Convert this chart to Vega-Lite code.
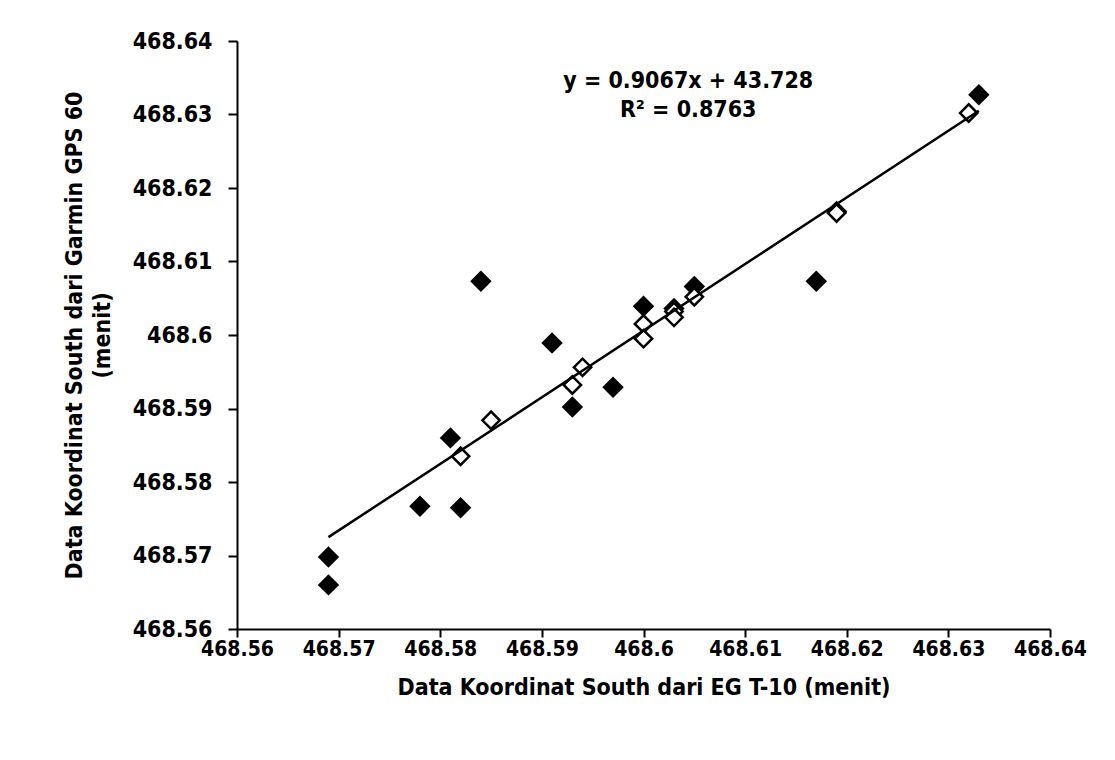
{
  "$schema": "https://vega.github.io/schema/vega-lite/v6.json",
  "width": 813,
  "height": 588,
  "autosize": "none",
  "padding": {"left": 237, "top": 41, "right": 65, "bottom": 131},
  "background": "white",
  "config": {
    "view": {"stroke": null},
    "font": "Liberation Sans Narrow, DejaVu Sans Condensed, sans-serif",
    "axis": {
      "grid": false,
      "domainColor": "black",
      "domainWidth": 2,
      "tickColor": "black",
      "tickWidth": 2,
      "labelColor": "black",
      "labelFontWeight": "bold",
      "labelFontSize": 23,
      "labelOverlap": false,
      "labelFlush": false,
      "titleColor": "black",
      "titleFontWeight": "bold",
      "titleFontSize": 23
    }
  },
  "datasets": {
    "actual": [
      {"eg": 468.569, "garmin": 468.5698},
      {"eg": 468.569, "garmin": 468.566},
      {"eg": 468.578, "garmin": 468.5767},
      {"eg": 468.582, "garmin": 468.5765},
      {"eg": 468.581, "garmin": 468.586},
      {"eg": 468.584, "garmin": 468.6073},
      {"eg": 468.591, "garmin": 468.5989},
      {"eg": 468.593, "garmin": 468.5902},
      {"eg": 468.597, "garmin": 468.5929},
      {"eg": 468.6, "garmin": 468.6039},
      {"eg": 468.603, "garmin": 468.6036},
      {"eg": 468.605, "garmin": 468.6066},
      {"eg": 468.617, "garmin": 468.6073},
      {"eg": 468.619, "garmin": 468.6168},
      {"eg": 468.633, "garmin": 468.6327}
    ],
    "predicted": [
      {"eg": 468.582, "garmin": 468.5835},
      {"eg": 468.585, "garmin": 468.5884},
      {"eg": 468.593, "garmin": 468.5932},
      {"eg": 468.594, "garmin": 468.5956},
      {"eg": 468.6, "garmin": 468.6015},
      {"eg": 468.6, "garmin": 468.5995},
      {"eg": 468.603, "garmin": 468.6032},
      {"eg": 468.603, "garmin": 468.6024},
      {"eg": 468.605, "garmin": 468.6052},
      {"eg": 468.619, "garmin": 468.6166},
      {"eg": 468.632, "garmin": 468.6302}
    ],
    "trend": [
      {"eg": 468.569, "garmin": 468.5725},
      {"eg": 468.633, "garmin": 468.6305}
    ],
    "notes": [
      {"eg": 468.6044, "garmin": 468.6346, "label": "y = 0.9067x + 43.728"},
      {"eg": 468.6044, "garmin": 468.6306, "label": "R² = 0.8763"}
    ]
  },
  "layer": [
    {
      "data": {"name": "actual"},
      "mark": {"type": "point", "shape": "diamond", "filled": true, "color": "black", "size": 460, "opacity": 1},
      "encoding": {
        "x": {
          "field": "eg", "type": "quantitative",
          "scale": {"domain": [468.56, 468.64], "nice": false, "zero": false},
          "axis": {
            "values": [468.56, 468.57, 468.58, 468.59, 468.6, 468.61, 468.62, 468.63, 468.64],
            "format": ".2~f", "tickSize": 8, "labelPadding": 1, "labelFontSize": 21,
            "title": "Data Koordinat South dari EG T-10 (menit)", "titlePadding": 17
          }
        },
        "y": {
          "field": "garmin", "type": "quantitative",
          "scale": {"domain": [468.56, 468.64], "nice": false, "zero": false},
          "axis": {
            "values": [468.56, 468.57, 468.58, 468.59, 468.6, 468.61, 468.62, 468.63, 468.64],
            "format": ".2~f", "tickSize": 9, "labelPadding": 16,
            "title": ["Data Koordinat South dari Garmin GPS 60", "(menit)"],
            "titlePadding": 18, "titleLineHeight": 28
          }
        }
      }
    },
    {
      "data": {"name": "predicted"},
      "mark": {"type": "point", "shape": "diamond", "filled": true, "fill": "white", "stroke": "black", "strokeWidth": 2.5, "size": 300, "opacity": 1},
      "encoding": {
        "x": {"field": "eg", "type": "quantitative"},
        "y": {"field": "garmin", "type": "quantitative"}
      }
    },
    {
      "data": {"name": "trend"},
      "mark": {"type": "line", "color": "black", "strokeWidth": 2.5},
      "encoding": {
        "x": {"field": "eg", "type": "quantitative"},
        "y": {"field": "garmin", "type": "quantitative"}
      }
    },
    {
      "data": {"name": "notes"},
      "mark": {"type": "text", "fontSize": 23, "fontWeight": "bold", "color": "black", "align": "center", "baseline": "middle"},
      "encoding": {
        "x": {"field": "eg", "type": "quantitative"},
        "y": {"field": "garmin", "type": "quantitative"},
        "text": {"field": "label"}
      }
    }
  ]
}
